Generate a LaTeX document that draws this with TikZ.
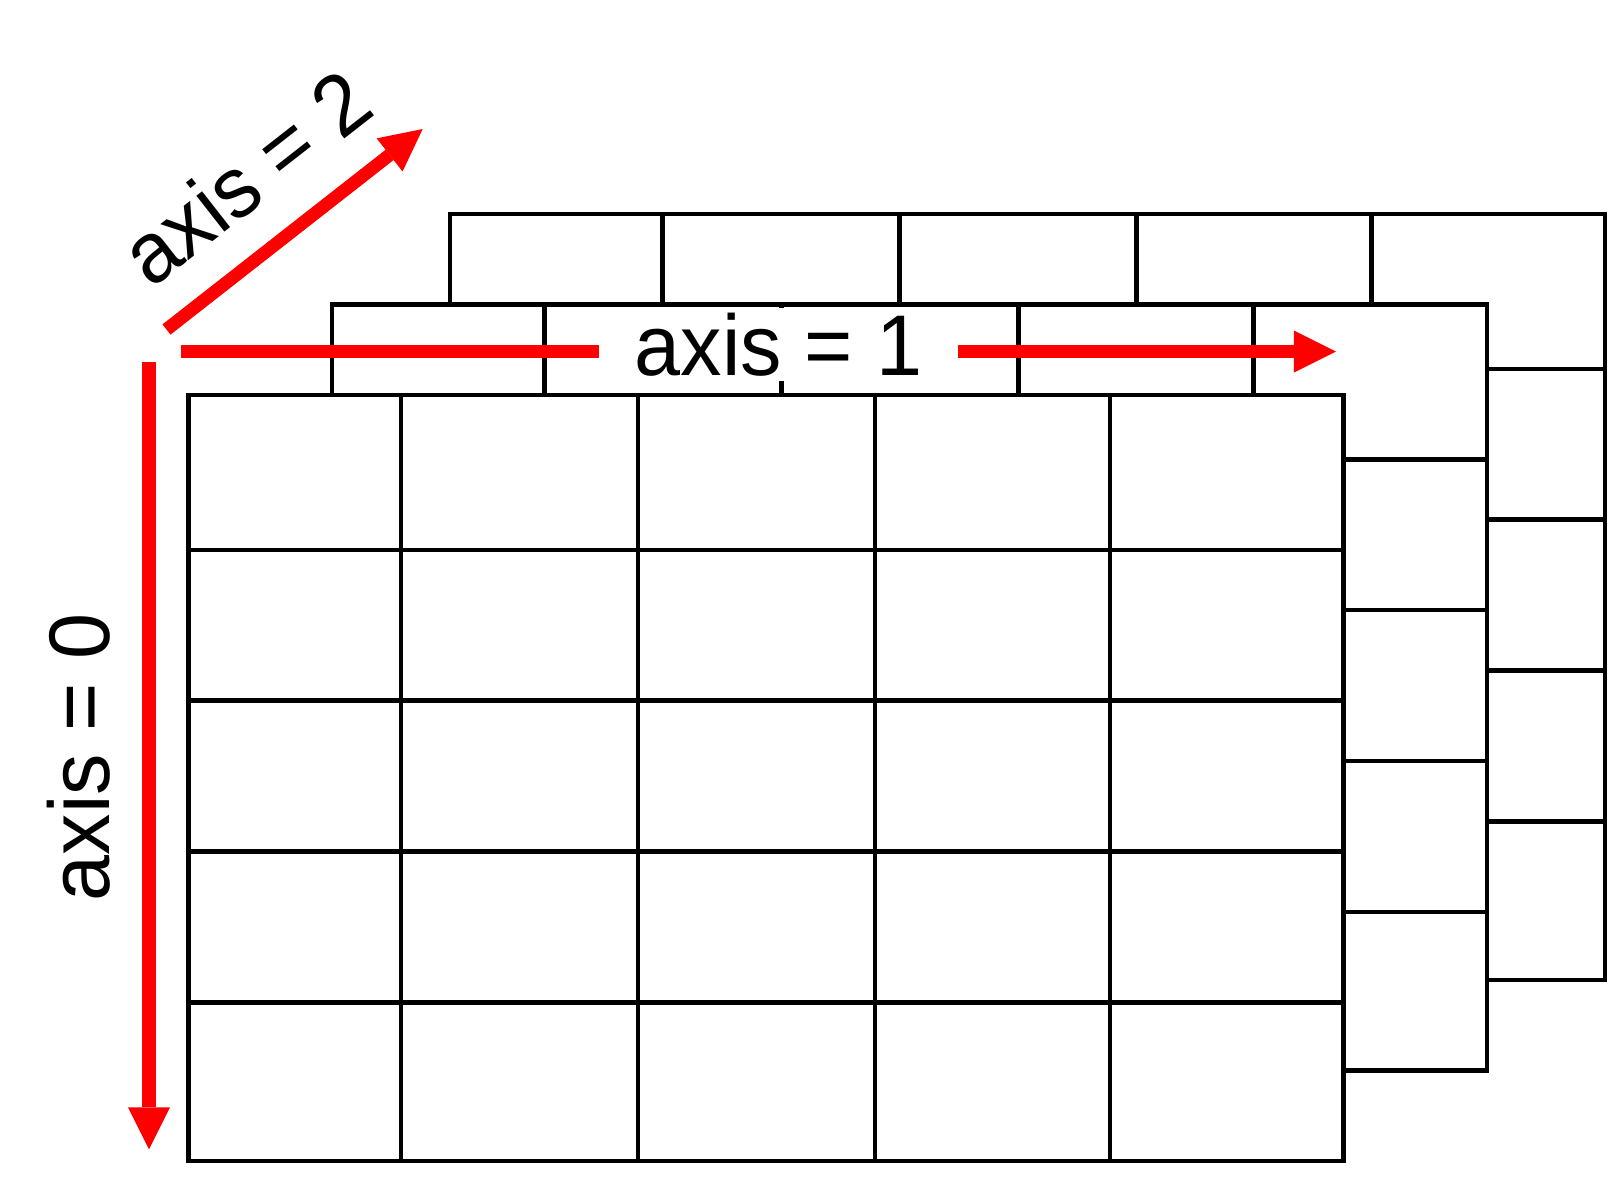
\documentclass[tikz,border=0pt]{standalone}
\usepackage{fontspec}
\setmainfont{Liberation Sans}
\newfontfamily\ejefont[FakeStretch=0.96]{Liberation Sans}
\usetikzlibrary{arrows.meta}

\begin{document}
\begin{tikzpicture}[x=0.01cm,y=-0.01cm]
    \tikzset{celda/.style = {draw=black,line width=0.045cm,line cap=rect}}
    \tikzset{capa/.style = {celda,fill=white}}
    \tikzset{flecha/.style = {draw=red,line width=0.13cm,-{Triangle[length=0.42cm,width=0.42cm,line width=0pt]}}}
    \tikzset{trazo/.style = {draw=red,line width=0.13cm}}
    \tikzset{etiqueta/.style = {font=\ejefont\fontsize{24.5}{29}\selectfont,inner sep=0pt}}

    \path[use as bounding box,fill=white] (0,0) rectangle (1608,1196);

    % three layers, back to front
    \foreach \dx/\dy in {261.6/-181, 143.6/-90.5, 0/0} {
        \begin{scope}[shift={(\dx,\dy)}]
            \draw[capa] (188.5,395) rectangle (1343.5,1161);
            \foreach \x in {401,638,875,1110}
                \draw[celda] (\x,395) -- (\x,1161);
            \foreach \y in {550,700.5,851.5,1002.5}
                \draw[celda] (188.5,\y) -- (1343.5,\y);
        \end{scope}
    }

    \coordinate (ini0) at (149,361.7);
    \coordinate (fin0) at (149,1149.3);
    \coordinate (ini1) at (181,351.5);
    \coordinate (fin1) at (1336,351.5);
    \coordinate (ini2) at (166.5,329.5);
    \coordinate (fin2) at (422.7,129);

    \node[etiqueta,fill=white,minimum width=3.57cm,minimum height=0.73cm] (eje1) at (778.5,344.5) {axis = 1\hspace{0.16cm}};
    \node[etiqueta,rotate=90] (eje0) at (79,757.5) {axis = 0};
    \node[etiqueta,rotate=38] (eje2) at (246,177) {axis = 2};

    \draw[flecha] (ini0) -- (fin0);
    \draw[trazo] (ini1) -- (ini1 -| eje1.west);
    \draw[flecha] (ini1 -| eje1.east) -- (fin1);
    \draw[flecha] (ini2) -- (fin2);
\end{tikzpicture}
\end{document}
